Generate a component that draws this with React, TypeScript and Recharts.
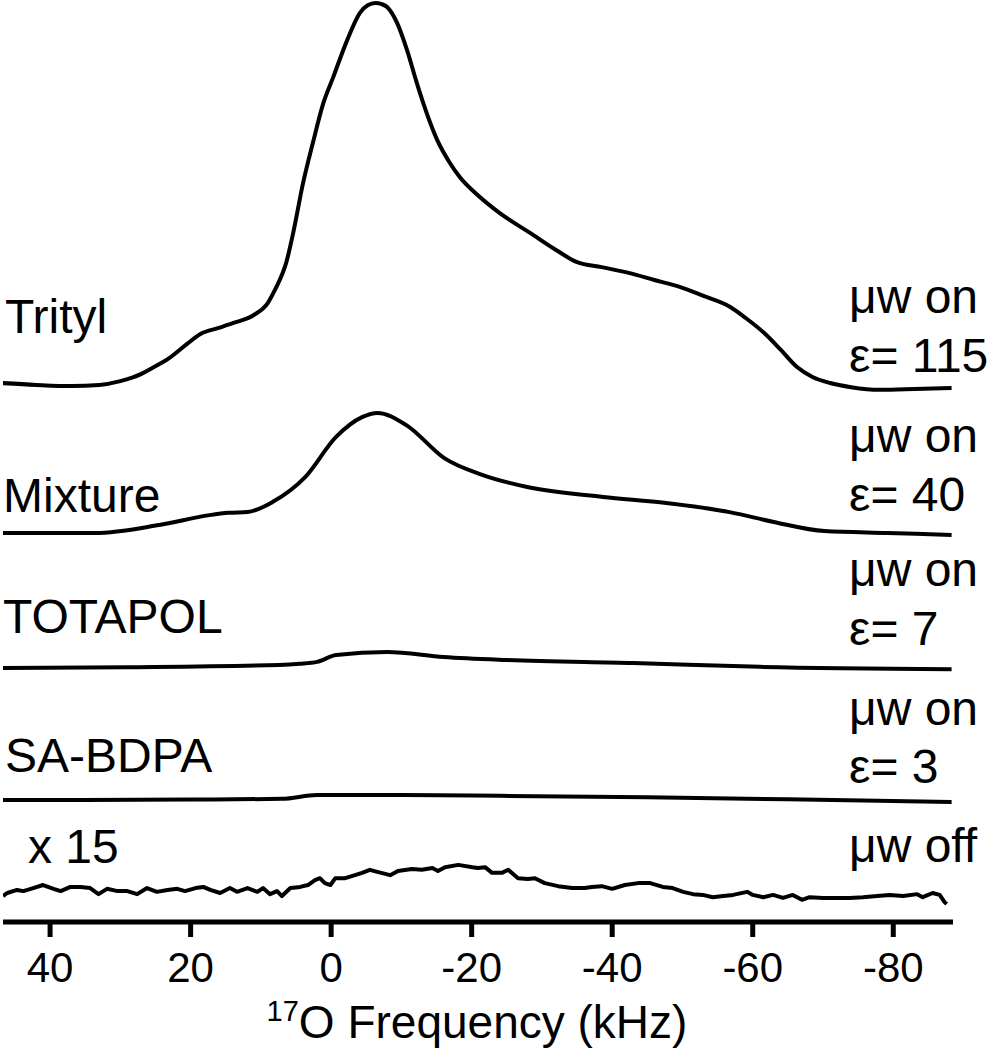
import { Line, LineChart, XAxis, YAxis } from "recharts";

const FONT = '"Liberation Sans", Arial, Helvetica, sans-serif';

// 17O frequency (kHz) and intensity (units of ~1% of the Trityl maximum)
const tritylKHz = [
  47, 42, 37, 33, 30, 27, 25.5, 23, 20.5, 18.6, 16, 13.9, 11, 9, 8, 7, 6.5, 5.4, 4, 2.6, 1.1, -0.3,
  -2.3, -4.1, -5.2, -6.3, -7.2, -8, -9.4, -10.8, -12.2, -13.1, -15.1, -16.9, -18.3, -21, -24, -28.3,
  -32, -35, -38.5, -42.5, -46, -49.6, -53, -56.8, -59, -61.6, -64, -66.3, -68.5, -71, -74, -78, -83,
  -88.3,
];
const tritylInt = [
  0, -0.5, -0.8, -0.5, 0.5, 2.4, 3.9, 6.6, 10.3, 12.9, 14.5, 15.8, 17.9, 21.1, 24.5, 28.5, 31, 39.5,
  52.6, 63.2, 73.7, 80.5, 90.3, 97.4, 99.4, 100, 99.7, 98.9, 94.7, 87.6, 78.9, 73.7, 63.9, 57.9,
  54.2, 49.2, 44.7, 39.5, 35, 31.8, 30.5, 28.9, 27.1, 25.3, 22.9, 20, 17.1, 13.2, 8.7, 4.2, 1.6, 0,
  -1.1, -1.8, -1.6, -1.3,
];

const mixtureKHz = [
  47, 33.6, 24.5, 17.3, 14.6, 11.9, 8.3, 3.7, -0.7, -4.4, -6.6, -10.7, -16.1, -21.5, -27.9, -38.7,
  -47.7, -56.7, -63, -70.2, -79.2, -88.3,
];
const mixtureInt = [
  0, 0, 2.1, 4.7, 5.3, 5.5, 8.2, 14.7, 25.3, 30.5, 31.6, 28.4, 19.7, 15.3, 12.1, 9.5, 7.9, 5.5, 2.9,
  0.5, 0, -0.5,
];

const totapolKHz = [47, 29, 7.4, 4.5, 2, -0.7, -8, -16, -25, -43, -61, -88.3];
const totapolInt = [0, 0.2, 0.8, 1.1, 1.6, 3.4, 4.2, 2.9, 2.1, 1.3, 0.3, -0.3];

const bdpaKHz = [47, 20, 7, 2, -10, -24, -45, -65, -88.3];
const bdpaInt = [0, 0.1, 0.3, 1.3, 1.3, 1.1, 0.7, 0.2, -0.5];

// microwaves off, shown x 15
const offKHz = [
  46.7, 46.1, 44.7, 43.8, 42.4, 41, 39.5, 38.5, 37.1, 35.7, 34.3, 33.1, 31.9, 30.4, 29, 27.6, 26.2,
  24.8, 23.3, 21.9, 20.8, 19.3, 18.2, 17.2, 15.8, 14.4, 13.4, 11.9, 10.5, 9.7, 8.7, 7.7, 7, 5.8, 4.4,
  3.3, 2.3, 1.6, 0.9, 0.1, -0.6, -2, -3.4, -4.4, -5.5, -6.7, -8.4, -9.5, -11.5, -12.9, -14.4, -15.2,
  -16.2, -18.1, -20.1, -20.9, -21.9, -22.9, -24.3, -25.2, -26.6, -28, -29, -30.4, -32.3, -34.3,
  -36.1, -37.1, -38.5, -40, -41.8, -43.7, -45.4, -47.2, -48.6, -50.1, -51.5, -52.9, -54.3, -55.8,
  -57.2, -59.2, -60, -61.5, -62.9, -64.3, -65.7, -67, -68.1, -70, -72, -73.8, -75.7, -77.7, -79.5,
  -81.4, -83.4, -84.2, -85.6, -86.6, -87.3, -87.6,
];
const offInt = [
  -0.8, 0, 0.8, 0.5, 1.3, 2.1, 1.1, 0.5, 1.6, 1.6, 1.3, -0.3, 1.1, 0.5, 0.5, -0.3, 1.3, 0.3, 0.8,
  1.1, 0.5, 1.3, 1.6, 0.8, 0, 1.3, 0.3, 1.3, 0.3, 1.3, -0.3, 0.5, -0.8, 1.3, 1.6, 2.1, 3.4, 3.9, 2.6,
  2.1, 3.9, 3.9, 4.7, 5.3, 6.1, 5.5, 4.7, 5.8, 6.3, 6.1, 6.6, 5.8, 6.8, 7.4, 6.8, 6.6, 6.8, 5.3, 5.3,
  6.1, 3.9, 3.7, 3.9, 2.6, 1.8, 1.3, 1.3, 1.6, 1.8, 1.1, 2.1, 2.6, 2.6, 1.6, 1.3, 0.3, -0.3, -0.5,
  -1.1, -0.8, -0.5, 0.3, -0.5, -1.1, -0.5, -1.3, -0.5, -1.8, -1.1, -1.3, -1.3, -1.3, -1.1, -0.8,
  -0.5, -0.8, -0.3, -1.1, 0, -0.5, -2.4, -2.9,
];

const xTicks = [40, 20, 0, -20, -40, -60, -80];

const leftLabels = ["Trityl", "Mixture", "TOTAPOL", "SA-BDPA", "x 15"];
const rightTop = ["\u03bcw on", "\u03bcw on", "\u03bcw on", "\u03bcw on", "\u03bcw off"];
const rightBottom = ["\u03b5= 115", "\u03b5= 40", "\u03b5= 7", "\u03b5= 3", ""];

// vertical gain (px per intensity unit) and stacking offsets (px above the axis)
const GAIN = 3.8;
const PLOT_H = 922;

const traces = [
  { id: "trityl", kHz: tritylKHz, values: tritylInt, base: 539, curve: "monotone" },
  { id: "mixture", kHz: mixtureKHz, values: mixtureInt, base: 389, curve: "monotone" },
  { id: "totapol", kHz: totapolKHz, values: totapolInt, base: 254, curve: "monotone" },
  { id: "bdpa", kHz: bdpaKHz, values: bdpaInt, base: 122, curve: "monotone" },
  { id: "off", kHz: offKHz, values: offInt, base: 29, curve: "linear" },
] as const;

const leftY = [333, 512, 633, 772, 863];
const leftX = [5, 3, 3, 5, 28];
const rightTopY = [313, 452, 586, 725, 862];
const rightBottomY = [372, 511, 645, 783, 0];

function points(kHz: readonly number[], values: readonly number[], base: number) {
  return kHz.map((x, i) => ({ x, y: base + values[i] * GAIN }));
}

export default function App() {
  return (
    <div style={{ position: "absolute", left: 0, top: 0, width: 997, height: 1050, background: "#fff" }}>
      <LineChart width={997} height={1050} margin={{ top: 0, right: 44, bottom: 0, left: 3 }}>
        <XAxis
          type="number"
          dataKey="x"
          domain={[-88.5, 46.7]}
          reversed
          allowDataOverflow
          ticks={xTicks}
          height={1050 - PLOT_H}
          axisLine={{ stroke: "#000", strokeWidth: 5 }}
          tickLine={{ stroke: "#000", strokeWidth: 5 }}
          tickSize={15}
          tickMargin={15}
          tick={{ fontSize: 42, fill: "#000", fontFamily: FONT }}
        />
        <YAxis type="number" dataKey="y" domain={[0, PLOT_H]} hide allowDataOverflow />
        {traces.map((t) => (
          <Line
            key={t.id}
            data={points(t.kHz, t.values, t.base)}
            dataKey="y"
            type={t.curve}
            stroke="#000"
            strokeWidth={4}
            strokeLinejoin="round"
            dot={false}
            isAnimationActive={false}
          />
        ))}
      </LineChart>
      <svg
        width={997}
        height={1050}
        style={{ position: "absolute", left: 0, top: 0, pointerEvents: "none" }}
        fontFamily={FONT}
        fill="#000"
      >
        {leftLabels.map((s, i) => (
          <text key={s} x={leftX[i]} y={leftY[i]} fontSize={48}>
            {s}
          </text>
        ))}
        {rightTop.map((s, i) => (
          <text key={"t" + i} x={849} y={rightTopY[i]} fontSize={48}>
            {s}
          </text>
        ))}
        {rightBottom.map((s, i) =>
          s ? (
            <text key={"b" + i} x={849} y={rightBottomY[i]} fontSize={48}>
              {s}
            </text>
          ) : null,
        )}
        <text x={477} y={1038} fontSize={46} textAnchor="middle">
          <tspan fontSize={29} dy={-17}>17</tspan>
          <tspan dy={17}>O Frequency (kHz)</tspan>
        </text>
      </svg>
    </div>
  );
}
